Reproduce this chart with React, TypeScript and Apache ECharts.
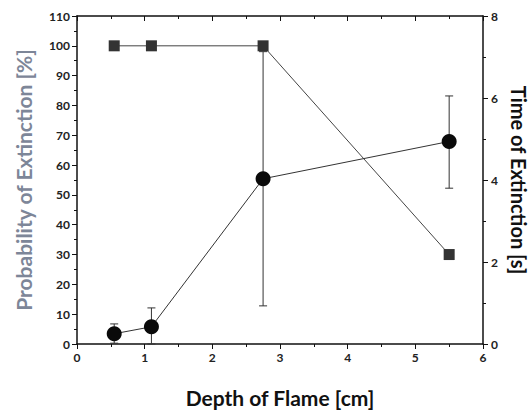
import React, { useEffect, useRef } from "react";
import * as echarts from "echarts";

const depth = [0.55, 1.1, 2.75, 5.5];
const probability = [100, 100, 100, 30];
const timeMean = [0.25, 0.42, 4.03, 4.94];
const timeLow = [0.02, 0.0, 0.93, 3.8];
const timeHigh = [0.49, 0.88, 7.13, 6.05];

const FONT = "Lato, 'Open Sans', sans-serif";

export default function App() {
  const ref = useRef<HTMLDivElement>(null);
  useEffect(() => {
    const chart = echarts.init(ref.current!, null, { renderer: "svg" });
    const axisLine = { show: true, onZero: false, lineStyle: { color: "#111", width: 1.5 } };
    const labelStyle = { color: "#222", fontFamily: FONT, fontWeight: "bold" as const, fontSize: 12 };
    const tick = (inside: boolean) => ({ show: true, inside, length: 5, lineStyle: { color: "#111" } });
    const minor = { show: true, splitNumber: 2, length: 3, lineStyle: { color: "#111" } };
    chart.setOption({
      animation: false,
      backgroundColor: "#fff",
      grid: { left: 77, right: 47, top: 16, bottom: 66, outerBoundsMode: "none", containLabel: false },
      xAxis: [
        {
          type: "value",
          min: 0,
          max: 6,
          interval: 1,
          position: "bottom",
          axisLine,
          axisTick: tick(false),
          minorTick: minor,
          splitLine: { show: false },
          axisLabel: { ...labelStyle, margin: 7 },
          name: "Depth of Flame [cm]",
          nameLocation: "middle",
          nameGap: 43,
          nameTextStyle: { color: "#111", fontFamily: FONT, fontWeight: "bold", fontSize: 21 },
        },
        {
          type: "value",
          min: 0,
          max: 6,
          interval: 1,
          position: "top",
          axisLine,
          axisTick: tick(true),
          minorTick: minor,
          splitLine: { show: false },
          axisLabel: { show: false },
        },
      ],
      yAxis: [
        {
          type: "value",
          min: 0,
          max: 110,
          interval: 10,
          position: "left",
          axisLine,
          axisTick: tick(false),
          minorTick: minor,
          splitLine: { show: false },
          axisLabel: { ...labelStyle, margin: 7 },
          name: "Probability of Extinction [%]",
          nameLocation: "middle",
          nameGap: 43,
          nameTextStyle: { color: "#7d8698", fontFamily: FONT, fontWeight: "bold", fontSize: 21 },
        },
        {
          type: "value",
          min: 0,
          max: 8,
          interval: 2,
          position: "right",
          axisLine,
          axisTick: tick(false),
          minorTick: minor,
          splitLine: { show: false },
          axisLabel: { ...labelStyle, margin: 8 },
          name: "Time of Extinction [s]",
          nameLocation: "middle",
          nameGap: 25,
          nameRotate: -90,
          nameTextStyle: { color: "#111", fontFamily: FONT, fontWeight: "bold", fontSize: 20 },
        },
      ],
      series: [
        {
          type: "custom",
          xAxisIndex: 0,
          yAxisIndex: 1,
          data: depth.map((x, i) => [x, timeLow[i], timeHigh[i]]),
          renderItem: (params: any, api: any) => {
            const x = api.value(0);
            const lo = api.coord([x, api.value(1)]);
            const hi = api.coord([x, api.value(2)]);
            const cap = 4;
            const style = { stroke: "#333", lineWidth: 1 };
            return {
              type: "group",
              children: [
                { type: "line", shape: { x1: lo[0], y1: lo[1], x2: hi[0], y2: hi[1] }, style },
                { type: "line", shape: { x1: lo[0] - cap, y1: lo[1], x2: lo[0] + cap, y2: lo[1] }, style },
                { type: "line", shape: { x1: hi[0] - cap, y1: hi[1], x2: hi[0] + cap, y2: hi[1] }, style },
              ],
            };
          },
          z: 1,
        },
        {
          type: "line",
          xAxisIndex: 0,
          yAxisIndex: 0,
          data: depth.map((x, i) => [x, probability[i]]),
          symbol: "rect",
          symbolSize: 11,
          itemStyle: { color: "#333" },
          lineStyle: { color: "#444", width: 1 },
          z: 3,
        },
        {
          type: "line",
          xAxisIndex: 0,
          yAxisIndex: 1,
          data: depth.map((x, i) => [x, timeMean[i]]),
          symbol: "circle",
          symbolSize: 15,
          itemStyle: { color: "#0a0a0a" },
          lineStyle: { color: "#333", width: 1 },
          z: 4,
        },
      ],
    });
    return () => chart.dispose();
  }, []);
  return (
    <div
      ref={ref}
      style={{ position: "absolute", left: 0, top: 0, width: 530, height: 410 }}
    />
  );
}
